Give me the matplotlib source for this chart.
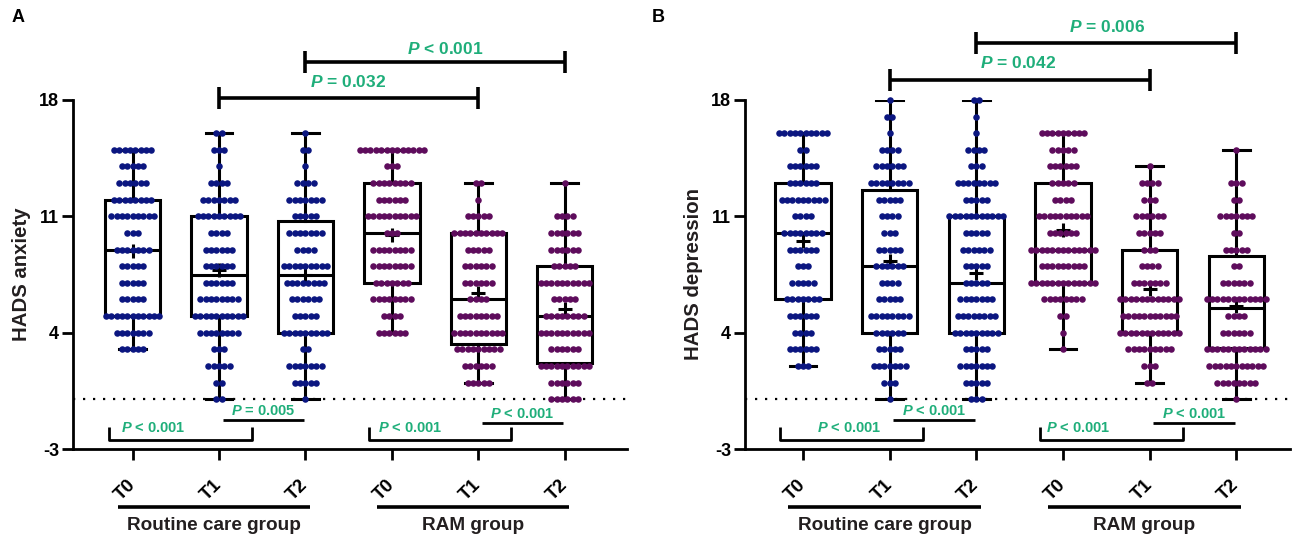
"""HADS anxiety / depression box plots with dot swarms, routine care vs RAM group."""

import matplotlib
matplotlib.use("Agg")
import matplotlib.pyplot as plt
import numpy as np

plt.rcParams["font.family"] = ["Liberation Sans", "DejaVu Sans"]
plt.rcParams["axes.unicode_minus"] = False
plt.rcParams["mathtext.fontset"] = "custom"
plt.rcParams["mathtext.it"] = "Liberation Sans:italic:bold"
plt.rcParams["mathtext.rm"] = "Liberation Sans:bold"

GREEN = "#1fae7a"
BLUE = "#0b1680"
PURPLE = "#5e0c5c"
TEXT = "#231f20"

tick_names = ["T0", "T1", "T2", "T0", "T1", "T2"]
group_names = ["Routine care group", "RAM group"]

# dot counts per score (index = score 0..18)
anx_counts = [
    [0, 0, 0, 5, 7, 11, 5, 5, 5, 7, 3, 9, 8, 6, 5, 8, 0, 0, 0],
    [2, 2, 5, 3, 8, 10, 8, 6, 6, 6, 4, 9, 7, 4, 1, 3, 2, 0, 0],
    [1, 5, 7, 2, 9, 5, 6, 8, 9, 4, 7, 5, 7, 4, 1, 2, 1, 0, 0],
    [0, 0, 0, 0, 6, 4, 8, 7, 8, 8, 3, 10, 6, 8, 3, 13, 0, 0, 0],
    [0, 5, 6, 9, 10, 8, 4, 6, 6, 5, 10, 5, 1, 2, 0, 0, 0, 0, 0],
    [6, 6, 10, 6, 10, 8, 5, 10, 5, 6, 6, 4, 0, 1, 0, 0, 0, 0, 0],
]
dep_counts = [
    [0, 0, 3, 6, 4, 6, 7, 5, 3, 6, 8, 4, 9, 6, 6, 2, 10, 0, 0],
    [1, 3, 7, 5, 6, 8, 5, 4, 6, 5, 3, 4, 5, 8, 6, 4, 1, 2, 1],
    [3, 5, 7, 5, 9, 8, 7, 5, 5, 6, 5, 11, 5, 8, 3, 4, 1, 1, 2],
    [0, 0, 0, 1, 1, 2, 8, 13, 9, 13, 6, 10, 4, 5, 6, 5, 9, 0, 0],
    [0, 2, 3, 9, 12, 11, 12, 7, 4, 3, 5, 6, 3, 4, 1, 0, 0, 0, 0],
    [1, 8, 11, 12, 6, 4, 12, 6, 2, 5, 2, 7, 2, 3, 0, 1, 0, 0, 0],
]

# box statistics: q1, median, q3, mean, min, max
anx_q1 = [5, 5, 4, 7, 3.3, 2.2]
anx_med = [9, 7.5, 7.5, 10, 6, 5]
anx_q3 = [12, 11, 10.7, 13, 10, 8]
anx_mean = [8.9, 7.8, 7.5, 9.9, 6.4, 5.4]
anx_min = [3, 0, 0, 4, 1, 0]
anx_max = [15, 16, 16, 15, 13, 13]

dep_q1 = [6, 4, 4, 7, 4, 3.1]
dep_med = [10, 8, 7, 9, 6, 5.5]
dep_q3 = [13, 12.6, 11, 13, 9, 8.6]
dep_mean = [9.5, 8.3, 7.6, 10.2, 6.6, 5.6]
dep_min = [2, 0, 0, 3, 1, 0]
dep_max = [16, 18, 18, 16, 14, 15]

# comparisons: (x1, x2, label)
anx_top = [(2, 5, "< 0.001"), (1, 4, "= 0.032")]
dep_top = [(2, 5, "= 0.006"), (1, 4, "= 0.042")]
anx_bottom = ["< 0.001", "= 0.005", "< 0.001", "< 0.001"]
dep_bottom = ["< 0.001", "< 0.001", "< 0.001", "< 0.001"]


def draw_panel(ax, counts, q1, med, q3, mean, vmin, vmax, ylabel, top, bottom,
               top_y, top_text, bottom_text_x, xlim):
    dx = 0.062
    for i, cnt in enumerate(counts):
        color = BLUE if i < 3 else PURPLE
        xs, ys = [], []
        for score, n in enumerate(cnt):
            if n == 0:
                continue
            offs = (np.arange(n) - (n - 1) / 2) * dx
            xs.extend(i + offs)
            ys.extend([score] * n)
        ax.plot(xs, ys, "o", color=color, markersize=4.7, markeredgewidth=0,
                zorder=3, clip_on=False)

    stats = []
    for i in range(len(counts)):
        stats.append(dict(q1=q1[i], med=med[i], q3=q3[i], mean=mean[i],
                          whislo=vmin[i], whishi=vmax[i], fliers=[]))
    ax.bxp(stats, positions=range(len(counts)), widths=0.64, showmeans=True,
           patch_artist=True, manage_ticks=False,
           boxprops=dict(facecolor="none", edgecolor="black", linewidth=2.2),
           medianprops=dict(color="black", linewidth=2.2),
           whiskerprops=dict(color="black", linewidth=2.2),
           capprops=dict(color="black", linewidth=2.2),
           capwidths=0.31,
           meanprops=dict(marker="+", markeredgecolor="black", markersize=10,
                          markeredgewidth=2.2), zorder=2)

    ax.axhline(0, color="black", linestyle=(0, (1, 3.5)), linewidth=1.6, zorder=1)

    ax.set_xlim(*xlim)
    ax.set_ylim(-3, 18)
    ax.set_yticks([-3, 4, 11, 18])
    ax.set_xticks(range(6))
    ax.set_xticklabels(tick_names, rotation=45, ha="right", va="center",
                       rotation_mode="anchor", fontweight="bold", fontsize=13.5)
    for lab in ax.get_yticklabels():
        lab.set_fontweight("bold")
    ax.tick_params(axis="both", width=2, length=8)
    ax.tick_params(axis="y", labelsize=13, pad=2)
    ax.tick_params(axis="x", pad=16)
    for side in ("top", "right"):
        ax.spines[side].set_visible(False)
    for side in ("left", "bottom"):
        ax.spines[side].set_linewidth(2)
    ax.set_ylabel(ylabel, fontsize=14.7, fontweight="bold", labelpad=6, color=TEXT)

    # top comparison brackets
    for (x1, x2, lab), by, (tx, ty) in zip(top, top_y, top_text):
        ax.plot([x1, x2], [by, by], color="black", lw=2.6, clip_on=False,
                solid_capstyle="butt")
        for xe in (x1, x2):
            ax.plot([xe, xe], [by - 0.66, by + 0.66], color="black", lw=2.6,
                    clip_on=False, solid_capstyle="butt")
        ax.text(tx, ty, r"$\it{P}$ " + lab, color=GREEN, fontsize=12.5,
                fontweight="bold", ha="center", va="center", clip_on=False)

    # bottom within-group comparisons
    for g, base in enumerate((0, 3)):
        bx1, bx2 = base - 0.27, base + 1.38
        ax.plot([bx1, bx1, bx2, bx2], [-1.66, -2.45, -2.45, -1.66],
                color="black", lw=2, solid_capstyle="butt")
        ax.text(base + bottom_text_x[g], -1.72, r"$\it{P}$ " + bottom[2 * g],
                color=GREEN, fontsize=10.5, fontweight="bold", ha="center",
                va="center")
        lx1, lx2 = base + 1.04, base + 1.98
        ly = -1.24 if g == 0 else -1.42
        ax.plot([lx1, lx2], [ly, ly], color="black", lw=2, solid_capstyle="butt")
        ax.text((lx1 + lx2) / 2, ly + 0.5, r"$\it{P}$ " + bottom[2 * g + 1],
                color=GREEN, fontsize=10.5, fontweight="bold", ha="center",
                va="center")

    # group labels under the x axis
    trans = ax.get_xaxis_transform()
    for g, base in enumerate((0, 3)):
        ax.plot([base - 0.17, base + 2.05], [-0.166, -0.166], color="black",
                lw=2.6, transform=trans, clip_on=False, solid_capstyle="butt")
        ax.text(base + 0.94, -0.218, group_names[g], transform=trans,
                fontsize=13.7, fontweight="bold", ha="center", va="center",
                color=TEXT)


fig = plt.figure(figsize=(12.95, 5.39), dpi=100)
ax_a = fig.add_axes([73 / 1295, 90 / 539, 554 / 1295, 349 / 539])
ax_b = fig.add_axes([745 / 1295, 90 / 539, 545 / 1295, 349 / 539])

draw_panel(ax_a, anx_counts, anx_q1, anx_med, anx_q3, anx_mean, anx_min, anx_max,
           "HADS anxiety", anx_top, anx_bottom,
           top_y=[20.3, 18.12], top_text=[(3.62, 21.07), (2.49, 19.08)],
           bottom_text_x=[0.24, 0.21], xlim=(-0.69, 5.72))
draw_panel(ax_b, dep_counts, dep_q1, dep_med, dep_q3, dep_mean, dep_min, dep_max,
           "HADS depression", dep_top, dep_bottom,
           top_y=[21.43, 19.2], top_text=[(3.51, 22.4), (2.48, 20.2)],
           bottom_text_x=[0.53, 0.18], xlim=(-0.67, 5.62))

fig.text(12 / 1295, 1 - 18 / 539, "A", fontsize=13, fontweight="bold", va="center")
fig.text(652 / 1295, 1 - 18 / 539, "B", fontsize=13, fontweight="bold", va="center")

fig.savefig("out.png", dpi=100)
